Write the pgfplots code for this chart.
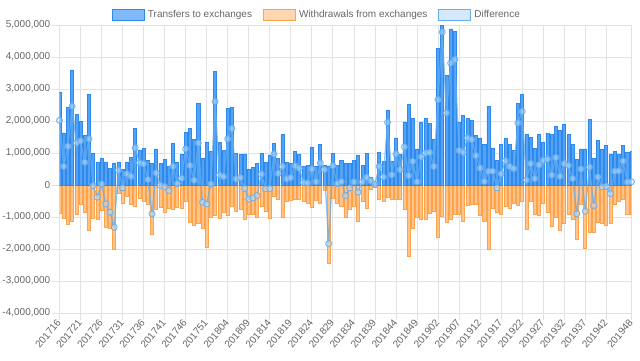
\documentclass[border=0pt]{standalone}
\usepackage{pgfplots}
\pgfplotsset{compat=1.18}
\usepackage{pgfplotstable}
\usepackage{fontspec}
\setmainfont{Liberation Sans}
\definecolor{tc}{RGB}{102,102,102}
\definecolor{gridc}{RGB}{226,226,226}
\definecolor{bluefill}{RGB}{84,162,245}
\definecolor{blueline}{RGB}{45,137,236}
\definecolor{orfill}{RGB}{255,196,140}
\definecolor{orline}{RGB}{255,163,75}
\definecolor{difffill}{RGB}{214,233,252}
\definecolor{diffline}{RGB}{100,175,240}

% values in millions
\pgfplotstableread{
i T W D
0 2.90 -0.88 2.02
1 1.63 -1.05 0.58
2 2.43 -1.22 1.21
3 3.60 -1.14 2.46
4 2.20 -0.90 1.31
5 1.99 -0.61 1.38
6 1.54 -0.84 0.71
7 2.84 -1.42 1.44
8 1.00 -1.03 -0.02
9 0.72 -1.08 -0.38
10 0.82 -0.79 0.03
11 0.72 -1.31 -0.59
12 0.51 -1.34 -0.85
13 0.69 -2.00 -1.32
14 0.72 -0.27 0.46
15 0.48 -0.56 -0.09
16 0.72 -0.35 0.35
17 0.87 -0.59 0.27
18 1.78 -0.65 1.16
19 1.10 -0.43 0.69
20 1.14 -0.51 0.66
21 0.77 -0.60 0.17
22 0.67 -1.55 -0.90
23 1.13 -0.75 0.38
24 0.67 -0.69 -0.01
25 0.79 -0.84 -0.05
26 0.58 -0.72 -0.17
27 1.31 -0.75 0.58
28 0.71 -0.69 0.04
29 0.95 -0.72 0.21
30 1.65 -0.51 1.13
31 1.78 -1.16 0.61
32 1.42 -1.26 0.15
33 2.54 -1.21 1.31
34 0.83 -1.36 -0.54
35 1.33 -1.94 -0.59
36 1.04 -1.00 0.03
37 3.55 -0.96 2.61
38 1.33 -1.03 0.31
39 1.08 -0.84 0.26
40 2.39 -0.96 1.44
41 2.44 -0.67 1.77
42 1.00 -0.82 0.19
43 0.96 -0.75 0.23
44 0.96 -1.06 -0.11
45 0.48 -0.93 -0.44
46 0.54 -0.91 -0.40
47 0.67 -1.00 -0.33
48 1.00 -0.67 0.34
49 0.71 -0.82 -0.12
50 0.94 -1.05 -0.11
51 1.31 -0.34 0.97
52 0.82 -0.46 0.36
53 1.57 -1.00 0.58
54 0.71 -0.51 0.19
55 0.69 -0.48 0.23
56 1.05 -0.46 0.60
57 0.95 -0.46 0.52
58 0.58 -0.51 0.08
59 0.61 -0.56 0.06
60 1.19 -0.69 0.50
61 0.60 -0.48 0.10
62 1.26 -0.58 0.69
63 0.61 -0.15 0.48
64 0.60 -2.44 -1.83
65 1.00 -0.41 0.60
66 0.61 -0.58 0.04
67 0.77 -0.65 0.11
68 0.67 -1.01 -0.33
69 0.67 -0.75 -0.10
70 0.77 -0.67 0.10
71 0.92 -1.14 -0.22
72 0.61 -0.51 0.10
73 0.98 -0.74 0.24
74 0.25 -0.12 0.13
75 0.10 -0.08 0.02
76 1.02 -0.44 0.58
77 0.74 -0.51 0.25
78 2.35 -0.38 1.96
79 0.75 -0.44 0.32
80 1.47 -0.46 0.97
81 0.95 -0.46 0.48
82 1.97 -0.77 1.19
83 2.51 -2.23 0.29
84 2.07 -1.34 0.74
85 1.13 -1.00 0.10
86 1.96 -1.08 0.88
87 2.07 -1.08 1.00
88 1.92 -0.88 1.02
89 1.42 -0.82 0.58
90 4.28 -1.63 2.67
91 4.98 -0.98 4.78
92 3.42 -1.16 2.25
93 4.88 -1.08 3.81
94 4.79 -0.91 3.92
95 1.96 -0.90 1.08
96 2.17 -1.14 1.02
97 2.09 -0.64 1.47
98 2.02 -0.61 1.42
99 1.54 -0.61 0.92
100 1.47 -0.96 0.53
101 1.26 -1.14 0.11
102 2.46 -2.02 0.43
103 1.16 -0.72 0.43
104 0.76 -0.84 -0.09
105 1.26 -0.91 0.35
106 1.45 -0.67 0.76
107 1.26 -0.74 0.58
108 1.07 -0.56 0.51
109 2.56 -0.62 1.94
110 2.82 -0.51 2.30
111 1.57 -1.40 0.15
112 1.49 -0.51 0.67
113 1.14 -0.90 0.20
114 1.59 -0.96 0.63
115 1.33 -0.56 0.77
116 1.63 -0.85 0.81
117 1.59 -1.29 0.31
118 1.85 -1.00 0.86
119 1.70 -1.42 0.27
120 1.91 -1.21 0.67
121 1.57 -0.90 0.61
122 1.28 -1.06 0.20
123 0.79 -1.69 -0.90
124 1.13 -0.61 0.50
125 1.13 -1.97 -0.82
126 2.04 -1.47 0.56
127 0.84 -1.47 -0.64
128 1.40 -1.16 0.25
129 1.13 -1.19 -0.06
130 1.23 -1.27 -0.04
131 0.95 -1.21 -0.27
132 1.04 -0.61 0.43
133 0.97 -0.51 0.44
134 1.23 -0.46 0.75
135 1.02 -0.93 0.09
136 1.05 -0.93 0.10
}\data

\begin{document}
\begin{tikzpicture}[x=1pt,y=1pt]
\useasboundingbox (0,0) rectangle (640,361);
\begin{axis}[
  at={(59.5pt,48pt)}, anchor=south west,
  scale only axis, width=572pt, height=288pt,
  xmin=0, xmax=136, ymin=-4, ymax=5,
  axis line style={gridc, line width=0.8pt},
  grid=major, major grid style={gridc, line width=0.8pt},
  tick pos=left, tick align=outside, major tick length=7pt,
  tick style={gridc, line width=0.8pt},
  xtick={0,5,...,130,136},
  xticklabels={201716,201721,201726,201731,201736,201741,201746,201751,201804,201809,201814,201819,201824,201829,201834,201839,201844,201849,201902,201907,201912,201917,201922,201927,201932,201937,201942,201948},
  ytick={-4,-3,-2,-1,0,1,2,3,4,5},
  yticklabels={{-4,000,000},{-3,000,000},{-2,000,000},{-1,000,000},0,{1,000,000},{2,000,000},{3,000,000},{4,000,000},{5,000,000}},
  ticklabel style={font=\fontsize{10}{12}\selectfont, text=tc},
  xticklabel style={rotate=50, anchor=east, inner sep=1pt},
  yticklabel style={inner sep=2pt},
  clip=true,
  legend style={at={(0.45,1.035)}, anchor=center, draw=none, fill=none,
    font=\fontsize{10}{12}\selectfont, text=tc, legend columns=3,
    /tikz/every even column/.append style={column sep=9pt},
    /tikz/every odd column/.append style={column sep=1pt}},
  legend cell align=left,
]
\addplot[ybar, bar width=0.72, bar shift=0pt, fill=orfill, draw=orline, line width=0.6pt, forget plot] table[x=i,y=W]{\data};
\addplot[ybar, bar width=0.72, bar shift=0pt, fill=bluefill, draw=blueline, line width=0.6pt, forget plot] table[x=i,y=T]{\data};
\addplot[diffline, draw opacity=0.75, line width=1.3pt, mark=*, mark size=3pt,
  mark options={fill=difffill, fill opacity=0.45, draw=diffline, draw opacity=0.85, line width=1pt}, forget plot] table[x=i,y=D]{\data};

\addlegendimage{legend image code/.code={\draw[fill=bluefill!75!white, draw=blueline, line width=1pt] (0pt,-5.5pt) rectangle (32pt,5.5pt);}}
\addlegendentry{Transfers to exchanges}
\addlegendimage{legend image code/.code={\draw[fill=orfill!70!white, draw=orline, line width=1pt] (0pt,-5.5pt) rectangle (32pt,5.5pt);}}
\addlegendentry{Withdrawals from exchanges}
\addlegendimage{legend image code/.code={\draw[fill=difffill, draw=diffline, line width=1pt] (0pt,-5.5pt) rectangle (32pt,5.5pt);}}
\addlegendentry{Difference}
\end{axis}
\end{tikzpicture}
\end{document}
